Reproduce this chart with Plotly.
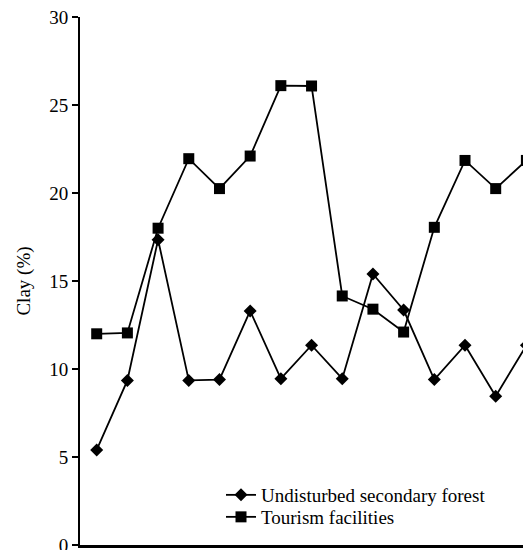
import plotly.graph_objects as go

sites = list(range(1, 16))
forest = [5.4, 9.35, 17.35, 9.35, 9.4, 13.3, 9.45, 11.35, 9.45, 15.4, 13.35, 9.4, 11.35, 8.45, 11.35]
tourism = [12.0, 12.05, 18.0, 21.95, 20.25, 22.1, 26.1, 26.08, 14.15, 13.4, 12.1, 18.05, 21.85, 20.25, 21.85]

W, H = 523, 542
L, R, T, B = 72, 0, 9, 5
PW, PH = W - L - R, H - T - B


def px(xv):
    return (xv - L) / PW


def py(yv):
    return (H - B - yv) / PH


FONT = "Liberation Serif"
FS = 19

fig = go.Figure()
fig.add_trace(go.Scatter(
    x=sites, y=forest, mode="lines+markers", name="Undisturbed secondary forest",
    line=dict(color="black", width=1.8),
    marker=dict(symbol="diamond", size=10, color="black"),
    legend="legend",
))
fig.add_trace(go.Scatter(
    x=sites, y=tourism, mode="lines+markers", name="Tourism facilities",
    line=dict(color="black", width=1.8),
    marker=dict(symbol="square", size=11, color="black"),
    legend="legend2",
))

leg_common = dict(xanchor="left", yanchor="top", bgcolor="rgba(0,0,0,0)",
                  font=dict(size=FS, family=FONT, color="black"))

fig.update_layout(
    width=W, height=H,
    margin=dict(l=L, r=R, t=T, b=B, autoexpand=False),
    paper_bgcolor="white", plot_bgcolor="white",
    font=dict(family=FONT, size=FS, color="black"),
    showlegend=True,
    legend=dict(x=px(213), y=py(468), **leg_common),
    legend2=dict(x=px(213), y=py(490), **leg_common),
    xaxis=dict(
        range=[0.456, 15.15], showline=True, linecolor="black", linewidth=3,
        showticklabels=False, ticks="", showgrid=False, zeroline=False,
        automargin=False,
    ),
    yaxis=dict(
        range=[0, 30], dtick=5, showline=True, linecolor="black", linewidth=2,
        ticks="outside", ticklen=6, tickwidth=2, tickcolor="black",
        showgrid=False, zeroline=False, ticklabeloverflow="allow",
        automargin=False,
        title=dict(text="Clay (%)", font=dict(size=FS), standoff=14),
        tickfont=dict(size=FS),
    ),
)

fig.write_html("out.html")
